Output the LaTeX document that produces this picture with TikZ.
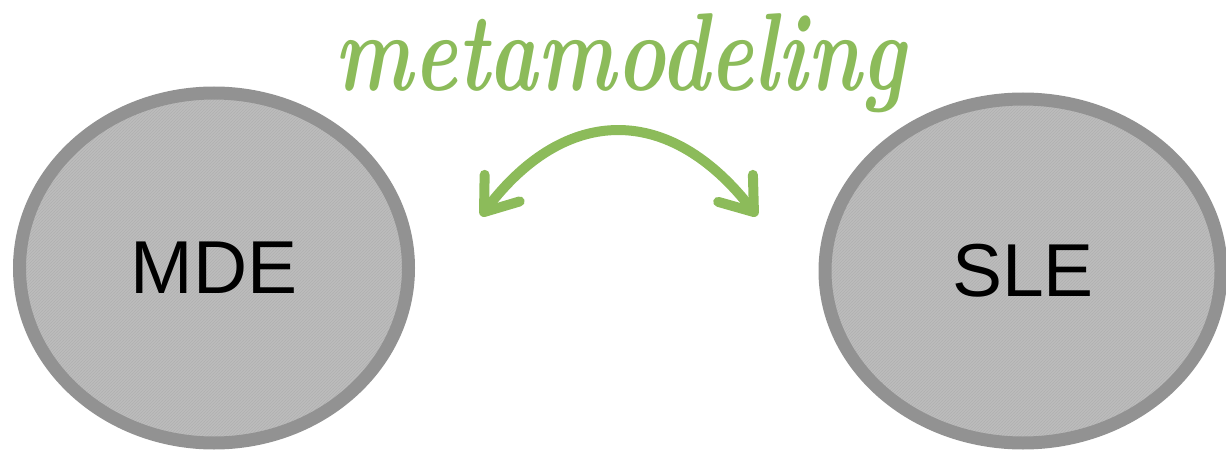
\documentclass[tikz,border=0pt]{standalone}
\usepackage{fontspec}
\setmainfont{Liberation Sans}
\newfontfamily\handfont{Latin Modern Roman}
\usetikzlibrary{shapes.geometric,arrows.meta,patterns}
\definecolor{ringgray}{HTML}{929292}
\definecolor{fillgray}{HTML}{BCBCBC}
\definecolor{hatchgray}{HTML}{B0B0B0}
\definecolor{leafgreen}{HTML}{8CBB5A}
\tikzset{
  blob/.style={ellipse, draw=ringgray, line width=13pt,
    preaction={fill=fillgray},
    preaction={pattern=north east lines, pattern color=hatchgray},
    inner sep=0pt, font=\fontsize{75}{80}\selectfont, text=black},
  bendarrow/.style={draw=leafgreen, line width=10pt, line cap=round,
    {Straight Barb[length=30pt,width=44pt,round]}-{Straight Barb[length=30pt,width=44pt,round]}},
  tag/.style={text=leafgreen, inner sep=0pt}
}
\begin{document}
\begin{tikzpicture}[x=1pt,y=-1pt]
\useasboundingbox (0,0) rectangle (1226,452);
\node[blob, minimum width=389pt, minimum height=350pt] (mde) at (214,268) {MDE};
\node[blob, minimum width=396pt, minimum height=344pt] (sle) at (1023,271) {SLE};
\node[tag, anchor=base] (meta) at (620,90) {\resizebox{570pt}{77pt}{\handfont\bfseries\itshape metamodeling}};
\coordinate (la) at (481,216);
\coordinate (ra) at (757,216);
\draw[bendarrow] (la) .. controls (566,104) and (670,104) .. (ra);
\end{tikzpicture}
\end{document}
